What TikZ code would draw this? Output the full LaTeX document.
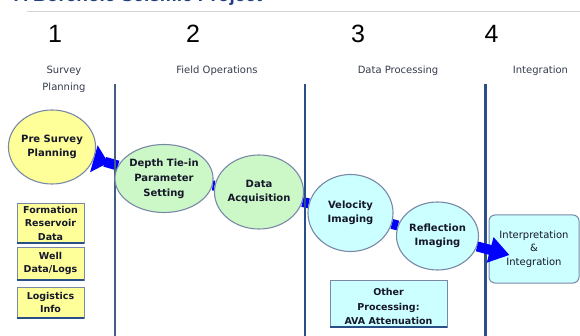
\documentclass[tikz,border=0pt]{standalone}
\usepackage{fontspec}
\setmainfont{DejaVu Sans}
\newfontfamily\numfont{Liberation Sans}
\usetikzlibrary{shapes.geometric,arrows.meta}
\pgfdeclarelayer{bg}
\pgfsetlayers{bg,main}
\definecolor{yelf}{HTML}{FFFF99}
\definecolor{grnf}{HTML}{CCF8C8}
\definecolor{cynf}{HTML}{CCFFFF}
\definecolor{flowblue}{HTML}{0000FF}
\definecolor{rimc}{HTML}{7A88A8}
\definecolor{ink}{HTML}{16182A}
\definecolor{phasec}{HTML}{343C4C}
\definecolor{navyc}{HTML}{2A4E88}
\definecolor{titlec}{HTML}{1F3F7F}
\definecolor{rulec}{HTML}{D4D4D4}
\begin{document}
\begin{tikzpicture}[x=1pt,y=-1pt,
  bubble/.style={ellipse, draw=rimc, line width=1.1pt, inner sep=0pt, align=center,
    text=ink, font=\bfseries\fontsize{10}{14}\selectfont},
  yel/.style={bubble, fill=yelf},
  grn/.style={bubble, fill=grnf},
  cyn/.style={bubble, fill=cynf},
  infobox/.style={rectangle, draw=rimc, line width=0.8pt, fill=yelf, inner sep=0pt,
    align=center, text=ink, font=\bfseries\fontsize{9.5}{13.5}\selectfont},
  boxbase/.style={draw=navyc, line width=2pt},
  interpbox/.style={rectangle, rounded corners=6pt, draw=rimc, line width=1pt, fill=cynf,
    inner sep=0pt, align=center, text=ink, font=\fontsize{10}{13.5}\selectfont},
  flow/.style={draw=flowblue, line width=10pt},
  numlabel/.style={anchor=base, inner sep=0pt, font=\numfont\fontsize{25}{25}\selectfont},
  phaselabel/.style={inner sep=0pt, align=center, text=phasec, font=\fontsize{10}{17}\selectfont},
  divider/.style={draw=navyc, line width=2.6pt}
]
\useasboundingbox (0,0) rectangle (580,336);
\clip (0,0) rectangle (580,336);
\begin{pgfonlayer}{bg}
\fill[white] (0,0) rectangle (580,336);
\end{pgfonlayer}

% heading strip, mostly above the top edge
\node[anchor=base west, inner sep=0pt, text=titlec,
  font=\numfont\bfseries\fontsize{19}{19}\selectfont] (title) at (14,1.5) {A Borehole Seismic Project};
\coordinate (ruleA) at (27,11.5);
\coordinate (ruleB) at (580,11.5);
\draw[rulec, line width=1.8pt] (ruleA) -- (ruleB);

% phase numbers and names
\node[numlabel] (n1) at (55,43) {1};
\node[numlabel] (n2) at (193,43) {2};
\node[numlabel] (n3) at (358,43) {3};
\node[numlabel] (n4) at (491.5,43) {4};
\node[phaselabel, anchor=north] (ph1) at (64,65.5) {Survey\\Planning};
\node[phaselabel, anchor=base] (ph2) at (217,74) {Field Operations};
\node[phaselabel, anchor=base] (ph3) at (398,74) {Data Processing};
\node[phaselabel, anchor=base] (ph4) at (540.5,74) {Integration};

% phase dividers
\coordinate (d1t) at (115,84);  \coordinate (d1b) at (115,336);
\coordinate (d2t) at (305,84);  \coordinate (d2b) at (305,336);
\coordinate (d3t) at (485.5,84);\coordinate (d3b) at (485.5,336);
\draw[divider, draw=navyc!70!gray] (d1t) -- (d1b);
\draw[divider] (d2t) -- (d2b);
\draw[divider] (d3t) -- (d3b);

% workflow steps
\node[yel, minimum width=82, minimum height=74] (pre) at (52,147) {Pre Survey\\Planning};
\node[grn, minimum width=82, minimum height=68, font=\bfseries\fontsize{10}{15}\selectfont]
  (depth) at (164,178.5) {Depth Tie-in\\Parameter\\Setting};
\node[grn, minimum width=82, minimum height=74] (acq) at (259,192) {Data\\Acquisition};
\node[cyn, minimum width=85, minimum height=77] (vel) at (350.5,213) {Velocity\\Imaging};
\node[cyn, minimum width=82, minimum height=68] (refl) at (437.5,236) {Reflection\\Imaging};
\node[interpbox, minimum width=90, minimum height=68] (interp) at (534,249)
  {Interpretation\\\&\\Integration};

% input data boxes
\node[infobox, minimum width=67, minimum height=40] (form) at (50.5,223) {Formation\\Reservoir\\Data};
\node[infobox, minimum width=67, minimum height=33] (well) at (50.5,263.5) {Well\\Data/Logs};
\node[infobox, minimum width=67, minimum height=31] (logi) at (50.5,302.5) {Logistics\\Info};
\draw[boxbase] (form.south west) -- (form.south east);
\draw[boxbase] (well.south west) -- (well.south east);
\draw[boxbase] (logi.south west) -- (logi.south east);

% side processing box
\node[infobox, fill=cynf, minimum width=117, minimum height=47] (other) at (388.5,303.5) {};
\node[anchor=north, inner sep=0pt, align=center, text=ink,
  font=\bfseries\fontsize{9.5}{14.5}\selectfont] (otherlbl) at ([yshift=-8.5pt]other.north)
  {Other\\Processing:\\AVA Attenuation};
\draw[boxbase] (other.south west) -- (other.south east);

% flow connectors, under the steps
\begin{pgfonlayer}{bg}
\draw[flow, {Triangle[reversed,width=27pt,length=15pt]}-] (pre) -- (depth);
\draw[flow] (depth) -- (acq);
\draw[flow] (acq) -- (vel);
\draw[flow] (vel) -- (refl);
\end{pgfonlayer}
\coordinate (tipend) at ([xshift=21pt,yshift=-6pt]interp.west);
\draw[flow, -{Triangle[width=25pt,length=20pt]}] (refl) -- (tipend);
\end{tikzpicture}
\end{document}
